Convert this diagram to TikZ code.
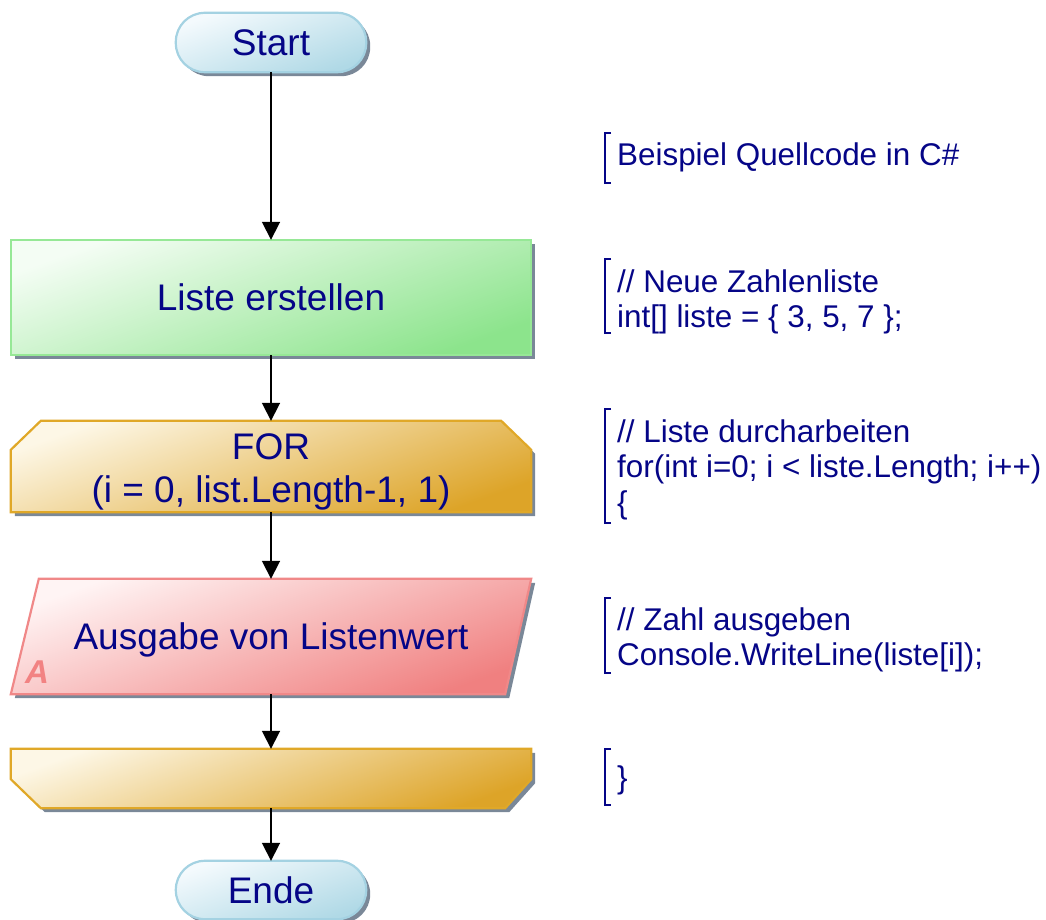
\documentclass[tikz,border=0pt]{standalone}
\usepackage{fontspec}
\setmainfont{Liberation Sans}
\usetikzlibrary{arrows.meta,backgrounds}
\definecolor{navy}{RGB}{5,5,135}
\definecolor{shadowc}{RGB}{122,136,152}
\definecolor{blueL}{RGB}{244,250,253}
\definecolor{blueD}{RGB}{176,217,230}
\definecolor{blueB}{RGB}{164,210,226}
\definecolor{greenL}{RGB}{244,253,244}
\definecolor{greenD}{RGB}{140,228,140}
\definecolor{greenB}{RGB}{150,232,150}
\definecolor{goldL}{RGB}{253,247,230}
\definecolor{goldD}{RGB}{221,164,40}
\definecolor{goldB}{RGB}{224,168,40}
\definecolor{redL}{RGB}{255,244,244}
\definecolor{redD}{RGB}{240,128,128}
\definecolor{redB}{RGB}{240,136,136}
\definecolor{alabel}{RGB}{242,130,130}
\newcommand\fcForShape[3]{([shift={(#2,#3)}]#1.south west) -- ([shift={(#2,#3+29)}]#1.north west) -- ([shift={(#2+30,#3)}]#1.north west) -- ([shift={(#2-30,#3)}]#1.north east) -- ([shift={(#2,#3+29)}]#1.north east) -- ([shift={(#2,#3)}]#1.south east) -- cycle}
\newcommand\fcParShape[3]{([shift={(#2+28,#3)}]#1.north west) -- ([shift={(#2,#3)}]#1.north east) -- ([shift={(#2-26,#3)}]#1.south east) -- ([shift={(#2,#3)}]#1.south west) -- cycle}
\newcommand\fcEndShape[3]{([shift={(#2,#3)}]#1.north west) -- ([shift={(#2,#3)}]#1.north east) -- ([shift={(#2,#3-29)}]#1.south east) -- ([shift={(#2-26,#3)}]#1.south east) -- ([shift={(#2+30,#3)}]#1.south west) -- ([shift={(#2,#3-29)}]#1.south west) -- cycle}
\newcommand\fcBoxShape[3]{([shift={(#2,#3)}]#1.south west) rectangle ([shift={(#2,#3)}]#1.north east)}
\tikzset{
  fc/.style={font=\fontsize{37}{43}\selectfont, text=navy, align=center},
  shapebox/.style={inner sep=0pt, draw=none},
  code/.style={font=\fontsize{31.4}{35.5}\selectfont, text=navy, anchor=base west, inner sep=0pt},
  brk/.style={draw=navy, line width=1.5pt},
  arr/.style={draw=black, line width=1.8pt, -{Triangle[width=18pt,length=18pt]}},
  sh/.style={fill=shadowc},
  bluefill/.style={draw=blueB, line width=2.2pt, top color=blueL, bottom color=blueD, shading angle=20},
  greenfill/.style={draw=greenB, line width=2.2pt, top color=greenL, bottom color=greenD, shading angle=20},
  goldfill/.style={draw=goldB, line width=2.2pt, top color=goldL, bottom color=goldD, shading angle=20},
  redfill/.style={draw=redB, line width=2.2pt, top color=redL, bottom color=redD, shading angle=20},
}
\begin{document}
\begin{tikzpicture}[x=1pt,y=-1pt]
\useasboundingbox (0,0) rectangle (1046,920);
% flowchart nodes
\node[fc, shapebox, minimum width=190pt, minimum height=59pt] (start) at (271,42.5) {Start};
\node[fc, shapebox, minimum width=520pt, minimum height=115pt] (liste) at (271,297.5) {Liste erstellen};
\node[shapebox, minimum width=520pt, minimum height=91pt] (for) at (271,466.5) {};
\node[fc, inner sep=0pt] (fortext) at (271,472) {FOR\\(i = 0, list.Length-1, 1)};
\node[fc, shapebox, text depth=0pt, minimum width=520pt, minimum height=115pt] (ausg) at (271,636.5) {Ausgabe von Listenwert};
\node[font=\fontsize{33}{33}\selectfont\bfseries\itshape, text=alabel, inner sep=0pt] (alab) at (37,672) {A};
\node[shapebox, minimum width=520pt, minimum height=59pt] (endl) at (271,778.5) {};
\node[fc, shapebox, minimum width=190pt, minimum height=58pt] (ende) at (271,890) {Ende};
% shapes
\begin{scope}[on background layer]
  \fill[sh, rounded corners=29pt] \fcBoxShape{start}{4}{4};
  \path[bluefill, rounded corners=29pt] \fcBoxShape{start}{0}{0};
  \fill[sh] \fcBoxShape{liste}{4}{4};
  \path[greenfill] \fcBoxShape{liste}{0}{0};
  \fill[sh] \fcForShape{for}{4}{4};
  \path[goldfill] \fcForShape{for}{0}{0};
  \fill[sh] \fcParShape{ausg}{4}{4};
  \path[redfill] \fcParShape{ausg}{0}{0};
  \fill[sh] \fcEndShape{endl}{4}{4};
  \path[goldfill] \fcEndShape{endl}{0}{0};
  \fill[sh, rounded corners=29pt] \fcBoxShape{ende}{4}{4};
  \path[bluefill, rounded corners=29pt] \fcBoxShape{ende}{0}{0};
\end{scope}
% connectors
\draw[arr] (start.south) -- (liste.north);
\draw[arr] (liste.south) -- (for.north);
\draw[arr] (for.south) -- (ausg.north);
\draw[arr] (ausg.south) -- (endl.north);
\draw[arr] (endl.south) -- (ende.north);
% code annotations
\draw[brk] (611,133) -- (605,133) -- (605,183) -- (611,183);
\node[code] (c1) at (617,166) {Beispiel Quellcode in C\#};
\draw[brk] (611,259) -- (605,259) -- (605,333) -- (611,333);
\node[code] (c2a) at (617,292) {// Neue Zahlenliste};
\node[code] (c2b) at (617,327.5) {int[] liste = \{ 3, 5, 7 \};};
\draw[brk] (611,409) -- (605,409) -- (605,523) -- (611,523);
\node[code] (c3a) at (617,442) {// Liste durcharbeiten};
\node[code] (c3b) at (617,477.5) {for(int i=0; i < liste.Length; i++)};
\node[code] (c3c) at (617,513) {\{};
\draw[brk] (611,598) -- (605,598) -- (605,673) -- (611,673);
\node[code] (c4a) at (617,630) {// Zahl ausgeben};
\node[code] (c4b) at (617,665.5) {Console.WriteLine(liste[i]);};
\draw[brk] (611,749) -- (605,749) -- (605,805) -- (611,805);
\node[code] (c5) at (617,788) {\}};
\end{tikzpicture}
\end{document}
